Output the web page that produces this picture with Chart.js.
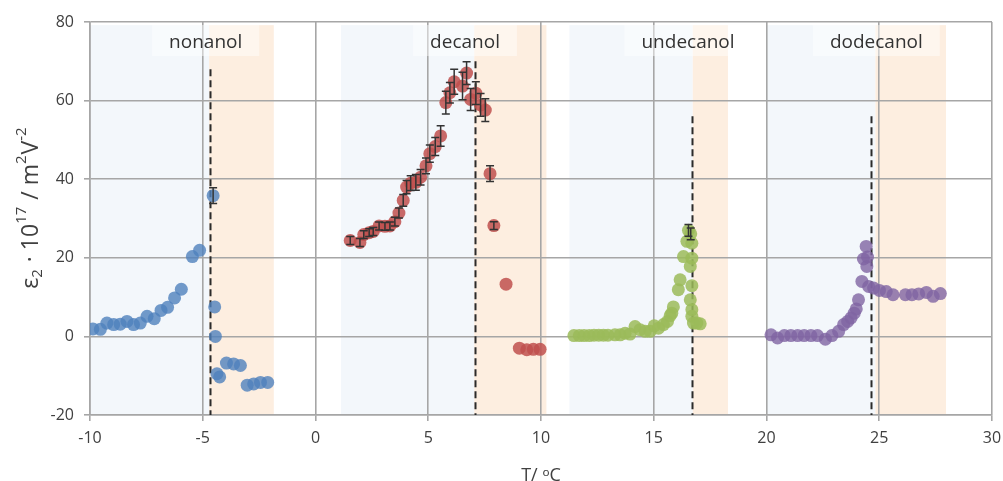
<!DOCTYPE html>
<html>
<head>
<meta charset="utf-8">
<script src="https://cdn.jsdelivr.net/npm/chart.js@4.4.1/dist/chart.umd.min.js"></script>
<style>
  html, body { margin: 0; padding: 0; background: #ffffff; }
  #wrap { width: 1003px; height: 481px; }
</style>
</head>
<body>
<div id="wrap"><canvas id="c" width="1003" height="481"></canvas></div>
<script>
// Temperature (°C) and ε2·10^17 (m²V⁻²) for each alcohol
const nonanolT = [-9.87, -9.54, -9.25, -8.95, -8.66, -8.36, -8.07, -7.77, -7.47, -7.15, -6.85, -6.56, -6.25, -5.95, -5.46, -5.14, -4.54, -4.47, -4.44, -4.37, -4.25, -3.95, -3.63, -3.33, -3.03, -2.74, -2.44, -2.12];
const nonanolE = [1.9, 1.8, 3.4, 3.0, 3.1, 3.8, 3.0, 3.4, 5.1, 4.5, 6.6, 7.4, 9.8, 12.0, 20.3, 21.9, 35.8, 7.5, 0.0, -9.5, -10.3, -6.8, -7.0, -7.4, -12.4, -12.1, -11.7, -11.7];
const nonanolErr = [0, 0, 0, 0, 0, 0, 0, 0, 0, 0, 0, 0, 0, 0, 0, 0, 2.0, 0, 0, 0, 0, 0, 0, 0, 0, 0, 0, 0];

const decanolT = [1.54, 1.97, 2.14, 2.38, 2.56, 2.82, 3.08, 3.30, 3.52, 3.70, 3.89, 4.04, 4.22, 4.45, 4.66, 4.90, 5.07, 5.31, 5.55, 5.78, 5.96, 6.15, 6.52, 6.70, 6.88, 7.11, 7.32, 7.53, 7.74, 7.91, 8.45, 9.04, 9.37, 9.66, 9.96];
const decanolE = [24.4, 23.9, 25.9, 26.4, 26.7, 28.1, 28.0, 28.1, 29.2, 31.4, 34.6, 38.0, 39.0, 39.2, 40.5, 43.4, 46.5, 48.3, 51.0, 59.5, 62.0, 64.8, 63.7, 67.0, 60.3, 61.9, 58.9, 57.6, 41.4, 28.2, 13.3, -3.0, -3.4, -3.3, -3.3];
const decanolErr = [1.0, 1.0, 1.0, 1.0, 1.0, 1.0, 1.0, 1.0, 1.1, 1.3, 1.5, 1.7, 1.9, 2.0, 2.0, 2.0, 2.2, 2.3, 2.6, 2.9, 2.6, 3.2, 3.5, 2.9, 2.8, 2.9, 2.9, 2.9, 2.0, 1.0, 0, 0, 0, 0, 0];

const undecanolT = [11.46, 11.70, 11.91, 12.14, 12.35, 12.56, 12.77, 12.97, 13.28, 13.51, 13.73, 13.95, 14.17, 14.39, 14.62, 14.84, 15.02, 15.21, 15.43, 15.61, 15.73, 15.80, 15.87, 16.09, 16.17, 16.32, 16.47, 16.54, 16.64, 16.69, 16.62, 16.69, 16.69, 16.62, 16.69, 16.69, 16.76, 16.91, 17.06];
const undecanolE = [0.2, 0.2, 0.2, 0.2, 0.3, 0.3, 0.3, 0.3, 0.4, 0.4, 0.8, 0.6, 2.5, 1.7, 1.3, 1.3, 2.7, 2.1, 3.0, 3.8, 5.3, 5.9, 7.5, 11.9, 14.4, 20.3, 24.2, 27.0, 26.1, 23.7, 17.8, 19.9, 12.9, 9.3, 6.8, 5.1, 3.4, 3.4, 3.2];
const undecanolErr = [0, 0, 0, 0, 0, 0, 0, 0, 0, 0, 0, 0, 0, 0, 0, 0, 0, 0, 0, 0, 0, 0, 0, 0, 0, 0, 0, 1.5, 1.5, 0, 0, 0, 0, 0, 0, 0, 0, 0, 0];

const dodecanolT = [20.20, 20.49, 20.79, 21.08, 21.38, 21.67, 21.97, 22.26, 22.61, 22.90, 23.20, 23.42, 23.60, 23.75, 23.89, 23.98, 24.08, 24.23, 24.30, 24.42, 24.45, 24.48, 24.53, 24.75, 25.01, 25.31, 25.61, 26.16, 26.45, 26.75, 27.09, 27.39, 27.71];
const dodecanolE = [0.4, -0.4, 0.2, 0.2, 0.2, 0.2, 0.2, 0.2, -0.7, 0.2, 1.3, 3.0, 3.8, 4.7, 5.9, 7.0, 9.3, 14.0, 19.7, 22.9, 17.8, 20.2, 12.7, 12.3, 11.7, 11.4, 10.6, 10.6, 10.6, 10.8, 11.2, 10.2, 10.9];

// Phase regions [from, to] in °C, transition temperatures and label placement
const alcoholNames = ['nonanol', 'decanol', 'undecanol', 'dodecanol'];
const lowPhase = [[-10, -4.72], [1.13, 7.04], [11.26, 16.73], [20.02, 24.83]];
const highPhase = [[-4.72, -1.85], [7.04, 10.24], [16.73, 18.29], [24.83, 27.96]];
const transitionT = [-4.68, 7.08, 16.71, 24.63];
const transitionTop = [68, 70, 56, 56];
const labelT = [-4.87, 6.63, 16.52, 24.87];
const labelE = 74.9;
const bandTop = 79.2;

// Axis ranges and tick spacing
const tRange = [-10, 30];
const tStep = 5;
const eRange = [-20, 80];
const eStep = 20;

// Y-axis title pieces: [text, role] where role is main / sub / sup
const yTitleParts = [['ε', 'main'], ['2', 'sub'], [' · 10', 'main'], ['17', 'sup'], [' / m', 'main'], ['2', 'sup'], ['V', 'main'], ['-2', 'sup']];

const FONT = "'Open Sans', 'Noto Sans', sans-serif";
const TEXT = '#404040';
const GRID = '#a6a6a6';

function pts(xs, ys) { return xs.map((x, i) => ({ x: x, y: ys[i] })); }

const phasePlugin = {
  id: 'phaseRegions',
  beforeDraw(chart) {
    const { ctx } = chart;
    const xs = chart.scales.x, ys = chart.scales.y;
    const yTop = ys.getPixelForValue(bandTop), yBot = ys.getPixelForValue(eRange[0]);
    ctx.save();
    ctx.fillStyle = '#f3f7fb';
    lowPhase.forEach(([a, b]) => {
      const x0 = xs.getPixelForValue(a), x1 = xs.getPixelForValue(b);
      ctx.fillRect(x0, yTop, x1 - x0, yBot - yTop);
    });
    ctx.fillStyle = '#fdeee0';
    highPhase.forEach(([a, b]) => {
      const x0 = xs.getPixelForValue(a), x1 = xs.getPixelForValue(b);
      ctx.fillRect(x0, yTop, x1 - x0, yBot - yTop);
    });
    ctx.restore();
  },
  beforeDatasetsDraw(chart) {
    const { ctx } = chart;
    const xs = chart.scales.x, ys = chart.scales.y;
    ctx.save();
    // transition temperatures
    ctx.strokeStyle = '#2b2b2b';
    ctx.lineWidth = 2;
    ctx.setLineDash([7, 4]);
    transitionT.forEach((t, i) => {
      const x = Math.round(xs.getPixelForValue(t)) + 0.5;
      ctx.beginPath();
      ctx.moveTo(x, ys.getPixelForValue(transitionTop[i]));
      ctx.lineTo(x, ys.getPixelForValue(eRange[0]));
      ctx.stroke();
    });
    ctx.setLineDash([]);
    // alcohol labels
    ctx.font = '19px ' + FONT;
    ctx.textAlign = 'center';
    ctx.textBaseline = 'middle';
    alcoholNames.forEach((name, i) => {
      const cx = xs.getPixelForValue(labelT[i]);
      const cy = ys.getPixelForValue(labelE);
      const w = ctx.measureText(name).width + 34;
      ctx.fillStyle = 'rgba(255,255,255,0.45)';
      ctx.fillRect(cx - w / 2, cy - 17, w, 31);
      ctx.fillStyle = '#333333';
      ctx.fillText(name, cx, cy + 1);
    });
    ctx.restore();
  },
  afterDatasetsDraw(chart) {
    const { ctx } = chart;
    const xs = chart.scales.x, ys = chart.scales.y;
    const sets = [[nonanolT, nonanolE, nonanolErr], [decanolT, decanolE, decanolErr], [undecanolT, undecanolE, undecanolErr]];
    ctx.save();
    ctx.strokeStyle = '#333333';
    ctx.lineWidth = 1.5;
    sets.forEach(([T, E, D]) => {
      T.forEach((t, i) => {
        if (!D[i]) return;
        const x = xs.getPixelForValue(t);
        const y0 = ys.getPixelForValue(E[i] - D[i]);
        const y1 = ys.getPixelForValue(E[i] + D[i]);
        ctx.beginPath();
        ctx.moveTo(x, y0); ctx.lineTo(x, y1);
        ctx.moveTo(x - 4, y0); ctx.lineTo(x + 4, y0);
        ctx.moveTo(x - 4, y1); ctx.lineTo(x + 4, y1);
        ctx.stroke();
      });
    });
    ctx.restore();
  },
  afterDraw(chart) {
    // rotated y-axis title with sub/superscripts
    const { ctx } = chart;
    const ys = chart.scales.y;
    const sizes = { main: 23, sub: 15, sup: 15 };
    const shift = { main: 0, sub: 4, sup: -12 };
    ctx.save();
    let total = 0;
    const widths = yTitleParts.map(([t, role]) => {
      ctx.font = sizes[role] + 'px ' + FONT;
      const w = ctx.measureText(t).width + (role === 'main' ? 0 : 1);
      total += w;
      return w;
    });
    const cy = (ys.top + ys.bottom) / 2 - 11;
    ctx.translate(38, cy);
    ctx.rotate(-Math.PI / 2);
    ctx.fillStyle = TEXT;
    ctx.textBaseline = 'alphabetic';
    ctx.textAlign = 'left';
    let x = -total / 2;
    yTitleParts.forEach(([t, role], i) => {
      ctx.font = sizes[role] + 'px ' + FONT;
      ctx.fillText(t, x, shift[role]);
      x += widths[i];
    });
    ctx.restore();
  }
};

const mk = (label, xs, ys, color) => ({
  label: label,
  data: pts(xs, ys),
  backgroundColor: color,
  borderWidth: 0,
  pointRadius: 6.5,
  pointHoverRadius: 6.5
});

new Chart(document.getElementById('c'), {
  type: 'scatter',
  data: {
    datasets: [
      mk('nonanol', nonanolT, nonanolE, 'rgba(79,129,189,0.8)'),
      mk('decanol', decanolT, decanolE, 'rgba(192,80,77,0.85)'),
      mk('undecanol', undecanolT, undecanolE, 'rgba(155,187,89,0.85)'),
      mk('dodecanol', dodecanolT, dodecanolE, 'rgba(128,100,162,0.8)')
    ]
  },
  options: {
    responsive: false,
    animation: false,
    layout: { padding: { top: 22, right: 11, left: 0, bottom: 0 } },
    plugins: { legend: { display: false }, tooltip: { enabled: false } },
    scales: {
      x: {
        type: 'linear', min: tRange[0], max: tRange[1],
        ticks: { stepSize: tStep, color: TEXT, font: { family: FONT, size: 16 }, padding: 8 },
        grid: { color: GRID, lineWidth: 1.6, tickLength: 6, tickColor: GRID },
        border: { color: GRID, width: 1.6 },
        title: { display: true, text: 'T/ ᵒC', color: TEXT, font: { family: FONT, size: 18 }, padding: { top: 0, bottom: -6 } },
        afterFit(s) { s.height = 66; s.paddingRight = 0; s.paddingLeft = 0; }
      },
      y: {
        type: 'linear', min: eRange[0], max: eRange[1],
        ticks: { stepSize: eStep, color: TEXT, font: { family: FONT, size: 16 }, padding: 10 },
        grid: { color: GRID, lineWidth: 1.6, tickLength: 6, tickColor: GRID },
        border: { color: GRID, width: 1.6 },
        title: { display: false },
        afterFit(s) { s.width = 90; s.paddingTop = 0; s.paddingBottom = 0; }
      }
    }
  },
  plugins: [phasePlugin]
});
</script>
</body>
</html>
